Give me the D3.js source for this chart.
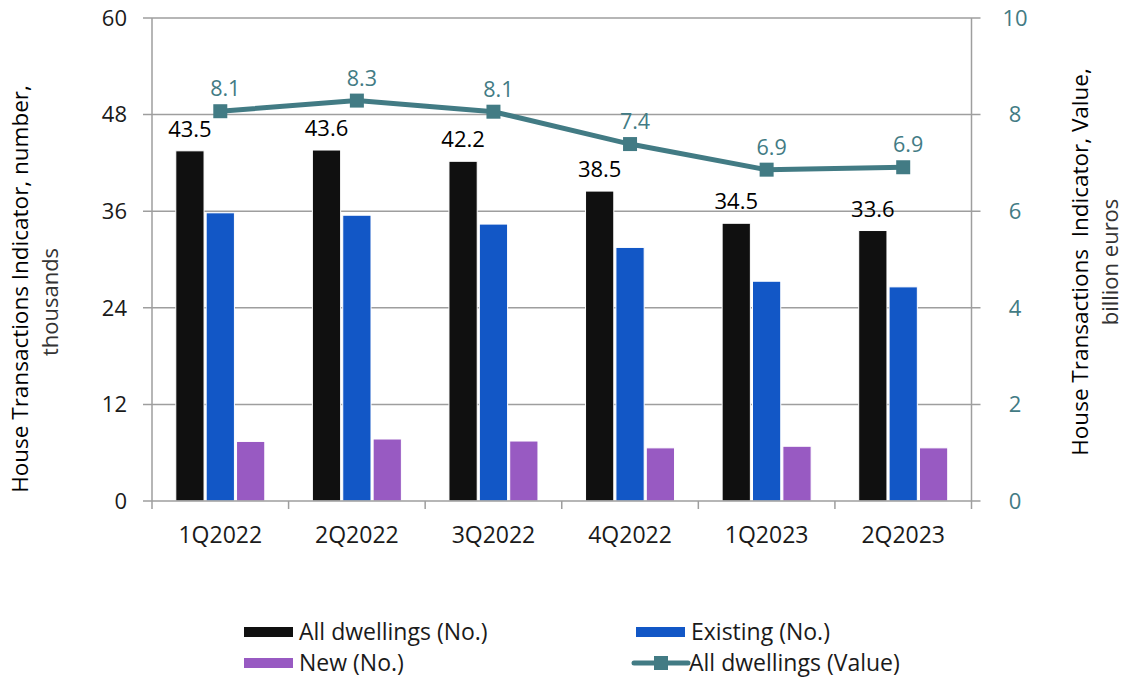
<!DOCTYPE html>
<html><head><meta charset="utf-8">
<script src="https://cdn.jsdelivr.net/npm/d3@7"></script>
<style>body{margin:0;background:#fff;} text{font-family:"Open Sans",sans-serif;}</style>
</head><body><svg id="c" width="1129" height="677"></svg>
<script>
const categories = ["1Q2022","2Q2022","3Q2022","4Q2022","1Q2023","2Q2023"];
const allDwellingsNo = [43.5, 43.6, 42.2, 38.5, 34.5, 33.6];
const existingNo = [35.8, 35.5, 34.4, 31.5, 27.3, 26.6];
const newNo = [7.4, 7.7, 7.45, 6.6, 6.8, 6.6];
const allDwellingsValue = [8.07, 8.29, 8.06, 7.39, 6.86, 6.91];
const valueLabels = ["8.1","8.3","8.1","7.4","6.9","6.9"];
const leftTicks = [0, 12, 24, 36, 48, 60];
const rightTicks = [0, 2, 4, 6, 8, 10];
const seriesNames = ["All dwellings (No.)","Existing (No.)","New (No.)","All dwellings (Value)"];

const colors = {all:"#101010", existing:"#1257C6", newc:"#985AC2", line:"#427B84", grid:"#9E9E9E", text:"#1a1a1a"};
const svg = d3.select("#c");
const L = 152, R = 971.5, T = 18, B = 501;

const x = d3.scaleBand().domain(categories).range([L, R]);
const yL = d3.scaleLinear().domain([0, 60]).range([B, T]);
const yR = d3.scaleLinear().domain([0, 10]).range([B, T]);
const x1 = d3.scaleBand().domain([0,1,2]).range([-44.5, 44.5]).paddingInner(0.07);

// gridlines
svg.append("g").selectAll("line").data(leftTicks.filter(d=>d>0)).join("line")
  .attr("x1", L-9).attr("x2", R+9)
  .attr("y1", d=>yL(d)).attr("y2", d=>yL(d))
  .attr("stroke", colors.grid).attr("stroke-width", 1.5);

// bars
const barSeries = [
  {vals: allDwellingsNo, color: colors.all},
  {vals: existingNo, color: colors.existing},
  {vals: newNo, color: colors.newc}
];
barSeries.forEach((s, si) => {
  svg.append("g").selectAll("rect").data(categories).join("rect")
    .attr("x", (c)=> x(c) + x.bandwidth()/2 + x1(si))
    .attr("width", x1.bandwidth())
    .attr("y", (c,i)=> yL(s.vals[i]))
    .attr("height", (c,i)=> B - yL(s.vals[i]))
    .attr("fill", s.color)
    .attr("stroke", "#fff").attr("stroke-width", 1);
});

// axes lines
svg.append("line").attr("x1", L).attr("x2", L).attr("y1", T).attr("y2", B+8).attr("stroke", colors.grid).attr("stroke-width", 1.5);
svg.append("line").attr("x1", R).attr("x2", R).attr("y1", T).attr("y2", B+8).attr("stroke", colors.grid).attr("stroke-width", 1.5);
svg.append("line").attr("x1", L-9).attr("x2", R+9).attr("y1", B).attr("y2", B).attr("stroke", colors.grid).attr("stroke-width", 1.5);
svg.append("g").selectAll("line").data(categories.slice(1)).join("line")
  .attr("x1", c=>x(c)).attr("x2", c=>x(c)).attr("y1", B).attr("y2", B+8)
  .attr("stroke", colors.grid).attr("stroke-width", 1.5);

// left tick labels
svg.append("g").selectAll("text").data(leftTicks).join("text")
  .attr("x", 127).attr("y", d=>yL(d)).attr("dy", "0.35em")
  .attr("text-anchor", "end").attr("font-size", 22).attr("fill", colors.text)
  .text(d=>d);
// right tick labels
svg.append("g").selectAll("text").data(rightTicks).join("text")
  .attr("x", 1015).attr("y", d=>yR(d)).attr("dy", "0.35em")
  .attr("text-anchor", "middle").attr("font-size", 22).attr("fill", colors.line)
  .text(d=>d);
// x labels
svg.append("g").selectAll("text").data(categories).join("text")
  .attr("x", c=>x(c)+x.bandwidth()/2).attr("y", 535).attr("dy", "0.35em")
  .attr("text-anchor", "middle").attr("font-size", 23).attr("fill", colors.text)
  .text(c=>c);

// bar labels (all dwellings)
svg.append("g").selectAll("text").data(categories).join("text")
  .attr("x", c=> x(c) + x.bandwidth()/2 + x1(0) + x1.bandwidth()/2)
  .attr("y", (c,i)=> yL(allDwellingsNo[i]) - 14)
  .attr("text-anchor", "middle").attr("font-size", 22).attr("fill", "#000")
  .text((c,i)=> allDwellingsNo[i].toFixed(1));

// line
const line = d3.line().x((d,i)=> x(categories[i]) + x.bandwidth()/2).y(d=> yR(d));
svg.append("path").datum(allDwellingsValue).attr("d", line)
  .attr("fill", "none").attr("stroke", colors.line).attr("stroke-width", 5);
svg.append("g").selectAll("rect").data(allDwellingsValue).join("rect")
  .attr("x", (d,i)=> x(categories[i]) + x.bandwidth()/2 - 7)
  .attr("y", d=> yR(d) - 7).attr("width", 14).attr("height", 14)
  .attr("fill", colors.line);
svg.append("g").selectAll("text").data(allDwellingsValue).join("text")
  .attr("x", (d,i)=> x(categories[i]) + x.bandwidth()/2 + 5)
  .attr("y", d=> yR(d) - 15)
  .attr("text-anchor", "middle").attr("font-size", 21.5).attr("fill", colors.line)
  .text((d,i)=> valueLabels[i]);

// axis titles
const lt = svg.append("g");
lt.append("text").attr("transform", "translate(28,289) rotate(-90)")
  .attr("text-anchor", "middle").attr("font-size", 22.5).attr("fill", "#000")
  .text("House Transactions Indicator, number,");
lt.append("text").attr("transform", "translate(58,302) rotate(-90)")
  .attr("text-anchor", "middle").attr("font-size", 22).attr("fill", "#333")
  .text("thousands");
const rt = svg.append("g");
rt.append("text").attr("transform", "translate(1088,262) rotate(-90)")
  .attr("text-anchor", "middle").attr("font-size", 22.5).attr("fill", "#000")
  .text("House Transactions\u00a0 Indicator, Value,");
rt.append("text").attr("transform", "translate(1118,262) rotate(-90)")
  .attr("text-anchor", "middle").attr("font-size", 22).attr("fill", "#333")
  .text("billion euros");

// legend
const leg = [
  {name: seriesNames[0], color: colors.all, x: 244, y: 632, type: "bar"},
  {name: seriesNames[1], color: colors.existing, x: 636, y: 632, type: "bar"},
  {name: seriesNames[2], color: colors.newc, x: 244, y: 663, type: "bar"},
  {name: seriesNames[3], color: colors.line, x: 634, y: 663, type: "line"}
];
const lg = svg.append("g");
leg.forEach(d => {
  if (d.type === "bar") {
    lg.append("rect").attr("x", d.x).attr("y", d.y-5).attr("width", 49).attr("height", 10).attr("fill", d.color);
  } else {
    lg.append("line").attr("x1", d.x).attr("x2", d.x+54).attr("y1", d.y).attr("y2", d.y)
      .attr("stroke", d.color).attr("stroke-width", 5).attr("stroke-linecap", "round");
    lg.append("rect").attr("x", d.x+20).attr("y", d.y-7).attr("width", 14).attr("height", 14).attr("fill", d.color);
  }
  lg.append("text").attr("x", d.x + 55).attr("y", d.y).attr("dy", "0.35em")
    .attr("font-size", 23).attr("fill", colors.text).text(d.name);
});
</script></body></html>
